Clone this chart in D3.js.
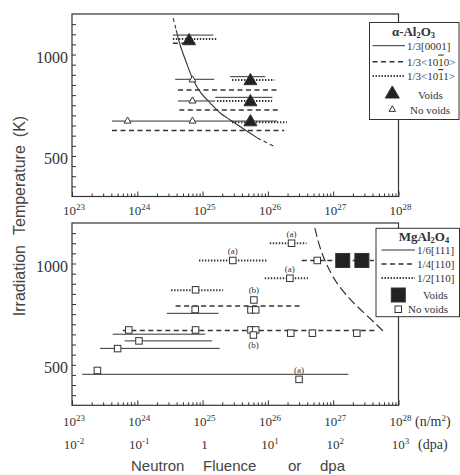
<!DOCTYPE html>
<html>
<head>
<meta charset="utf-8">
<script src="https://cdn.jsdelivr.net/npm/d3@7"></script>
<style>
html,body{margin:0;padding:0;background:#fff;}
svg{display:block;}
</style>
</head>
<body>
<svg id="chart" width="460" height="475"></svg>
<script>
// ---------------- data ----------------
const fluenceExponents = [23, 24, 25, 26, 27, 28];
const dpaTickLabels = [["10","-2"],["10","-1"],["1",""],["10","1"],["10","2"],["10","3"]];
const tempTickLabels = [500, 1000];
const tempMinorTicks = [350,400,450,500,550,600,650,700,750,800,850,900,950,1000,1050,1100,1150];

// alpha-Al2O3 : [fluence from, fluence to, temperature K]
const al2o3Solid = [
  [3.5e24, 1.46e25, 1096],
  [3.8e24, 1.51e25, 878],
  [2.65e25, 9.1e25, 891],
  [4.2e24, 1.56e25, 771],
  [1.56e25, 1.17e26, 789],
  [4.1e23, 1.38e26, 672]
];
const al2o3Dashed = [
  [3.5e24, 7.7e24, 1056],
  [4.2e24, 1.45e26, 825],
  [4.4e24, 1.5e26, 727],
  [4.1e23, 1.78e26, 626]
];
const al2o3Dotted = [
  [3.5e24, 1.66e25, 1077],
  [2.82e25, 1.26e26, 875],
  [1.66e25, 1.16e26, 771],
  [2.82e25, 1.95e26, 666]
];
const al2o3Voids = [[6.2e24,1067],[5.4e25,870],[5.4e25,766],[5.4e25,667]];
const al2o3NoVoids = [[7.0e24,875],[7.0e24,771],[7.0e24,672],[7.1e23,672]];
const al2o3Curve = [[3.54e24,1180],[3.94e24,1121],[4.53e24,1047],[5.6e24,963],[7.18e24,875],[9.5e24,810],
  [1.31e25,761],[1.86e25,712],[2.65e25,677],[4.5e25,628],[6.87e25,589],[1.3e26,544]];

// MgAl2O4 : [fluence from, fluence to, temperature K]
const spinelSolid = [
  [2.83e24, 1.75e25, 754],
  [4.2e23, 1.1e25, 651],
  [6.4e23, 1.4e25, 618],
  [2.7e23, 1.83e25, 581],
  [1.43e23, 1.7e27, 453]
];
const spinelDashed = [
  [3.86e24, 3.3e26, 790],
  [6.0e23, 4.4e27, 669],
  [3.3e26, 4.2e27, 1015]
];
const spinelDotted = [
  [8.8e24, 9.6e25, 1015],
  [1.07e26, 3.9e26, 1100],
  [8.95e25, 4.1e26, 927],
  [3.3e24, 2.06e25, 868]
];
const spinelVoids = [[1.4e27,1015],[2.75e27,1015]];
const spinelNoVoids = [
  [2.9e25,1015],[2.3e26,1100],[2.17e26,927],[5.7e26,1015],
  [7.8e24,870],[7.7e24,773],
  [6.1e25,820],[5.5e25,771],[6.5e25,771],
  [7.4e23,672],[7.8e24,672],[5.5e25,672],[6.5e25,672],[6.0e25,647],
  [2.24e26,656],[4.8e26,656],[2.3e27,656],
  [1.06e24,618],[5.0e23,580],[2.45e23,472],[3.0e26,428]
];
const spinelNotes = [
  [2.9e25,1015,"(a)","above"],[2.3e26,1100,"(a)","above"],[2.17e26,927,"(a)","above"],
  [6.1e25,820,"(b)","above"],[6.0e25,647,"(b)","below"],[3.0e26,428,"(a)","above"]
];
const spinelCurve = [[5.24e26,1175],[6.25e26,1082],[8.0e26,993],[1.14e27,904],[1.8e27,825],
  [2.86e27,761],[4.52e27,701],[5.78e27,667]];

// ---------------- drawing ----------------
const svg = d3.select("#chart");
svg.append("rect").attr("width",460).attr("height",475).attr("fill","#fff");
const INK = "#333";
const SERIF = "'Liberation Serif','Times New Roman',serif";
const SANS = "'Liberation Sans',Arial,sans-serif";
const X0 = 72, X1 = 398.5;
const x = d3.scaleLog().domain([1e23,1e28]).range([X0,X1]);
const majorX = fluenceExponents.map(e => Math.pow(10,e));
const minorX = [];
fluenceExponents.slice(0,-1).forEach(e => { for (let m=2;m<=9;m++) minorX.push(m*Math.pow(10,e)); });

const lineStyles = {
  solid:{w:1, dash:null},
  dashed:{w:1.5, dash:"5,3.5"},
  dotted:{w:2, dash:"1.4,1.6"}
};

function makePanel(top, bottom){
  const y = d3.scaleLinear().domain([300,1200]).range([bottom,top]);
  return {g: svg.append("g"), y, top, bottom};
}

function drawSegments(p, data, style){
  p.g.append("g").selectAll("line").data(data).join("line")
    .attr("x1",d=>x(d[0])).attr("x2",d=>x(d[1]))
    .attr("y1",d=>p.y(d[2])).attr("y2",d=>p.y(d[2]))
    .attr("stroke",INK).attr("stroke-width",lineStyles[style].w)
    .attr("stroke-dasharray",lineStyles[style].dash);
}

function drawCurve(p, pts, style, width){
  const ln = d3.line().x(d=>x(d[0])).y(d=>p.y(d[1])).curve(d3.curveCatmullRom);
  p.g.append("path").attr("d",ln(pts)).attr("fill","none").attr("stroke",INK)
    .attr("stroke-width",width).attr("stroke-dasharray",style);
}

function tri(side){ return d3.symbol(d3.symbolTriangle, side*side*Math.sqrt(3)/4)(); }

function drawTriangles(p, data, filled, side){
  p.g.append("g").selectAll("path").data(data).join("path")
    .attr("d",tri(side))
    .attr("transform",d=>`translate(${x(d[0])},${p.y(d[1])})`)
    .attr("fill",filled?"#222":"#fff").attr("stroke",INK).attr("stroke-width",1);
}

function drawSquares(p, data, filled, side){
  p.g.append("g").selectAll("rect").data(data).join("rect")
    .attr("x",d=>x(d[0])-side/2).attr("y",d=>p.y(d[1])-side/2)
    .attr("width",side).attr("height",side)
    .attr("fill",filled?"#222":"#fff").attr("stroke",INK).attr("stroke-width",1);
}

function pow10Label(g, px, py, base, exp, size, supSize){
  const t = g.append("text").attr("x",px).attr("y",py).attr("text-anchor","middle")
    .attr("font-family",SERIF).attr("font-size",size).attr("fill",INK);
  t.append("tspan").text(base);
  if (exp) t.append("tspan").attr("dy",-5.5).attr("font-size",supSize).text(exp);
  return t;
}

function drawAxes(p, labelRowY){
  const styleAxis = a => { a.select(".domain").remove(); a.selectAll("line").attr("stroke",INK); };
  styleAxis(p.g.append("g").attr("transform",`translate(${X0},0)`)
    .call(d3.axisLeft(p.y).tickValues(tempMinorTicks).tickSize(-4).tickSizeOuter(0).tickFormat("")));
  styleAxis(p.g.append("g").attr("transform",`translate(0,${p.bottom})`)
    .call(d3.axisBottom(x).tickValues(minorX).tickSize(-3).tickSizeOuter(0).tickFormat("")));
  styleAxis(p.g.append("g").attr("transform",`translate(0,${p.bottom})`)
    .call(d3.axisBottom(x).tickValues(majorX).tickSize(-5).tickSizeOuter(0).tickFormat("")));
  p.g.append("rect").attr("x",X0).attr("y",p.top).attr("width",X1-X0).attr("height",p.bottom-p.top)
    .attr("fill","none").attr("stroke",INK).attr("stroke-width",1.2);
  p.g.append("g").selectAll("text").data(tempTickLabels).join("text")
    .attr("x",68).attr("y",d=>p.y(d)+8).attr("text-anchor","end")
    .attr("font-family",SERIF).attr("font-size",16).attr("fill",INK).text(d=>d);
  fluenceExponents.forEach(e => pow10Label(p.g, x(Math.pow(10,e))+2, labelRowY, "10", String(e), 13, 9));
}

function legendBox(g, bx, by, bw, bh){
  g.append("rect").attr("x",bx).attr("y",by).attr("width",bw).attr("height",bh)
    .attr("fill","#fff").attr("stroke",INK).attr("stroke-width",1);
}
function legendLine(g, x1, x2, yy, style){
  g.append("line").attr("x1",x1).attr("x2",x2).attr("y1",yy).attr("y2",yy)
    .attr("stroke",INK).attr("stroke-width",lineStyles[style].w)
    .attr("stroke-dasharray",lineStyles[style].dash);
}
function legendText(g, px, py, parts, size){
  const t = g.append("text").attr("x",px).attr("y",py).attr("font-family",SERIF)
    .attr("font-size",size||11).attr("fill",INK);
  parts.forEach(pt => {
    const s = t.append("tspan").text(pt.t);
    if (pt.over) s.style("text-decoration","overline");
    if (pt.sub) s.attr("font-size",8.5).attr("dy",2.2);
    if (pt.back) s.attr("dy",-2.2);
  });
  return t;
}

// ---- top panel: alpha-Al2O3
const pTop = makePanel(14, 196.5);
drawSegments(pTop, al2o3Solid, "solid");
drawSegments(pTop, al2o3Dashed, "dashed");
drawSegments(pTop, al2o3Dotted, "dotted");
drawCurve(pTop, al2o3Curve.slice(0,2), "4,3", 1.1);
drawCurve(pTop, al2o3Curve.slice(1,11), null, 1.1);
drawCurve(pTop, al2o3Curve.slice(10), "4,3", 1.1);
drawTriangles(pTop, al2o3NoVoids, false, 7);
drawTriangles(pTop, al2o3Voids, true, 13);
drawAxes(pTop, 215);

// legend top
{
  const g = pTop.g.append("g");
  legendBox(g, 369.5, 22.5, 89.5, 97);
  legendText(g, 413.5, 35.5, [{t:"α-Al"},{t:"2",sub:true},{t:"O",back:true},{t:"3",sub:true}], 13)
    .attr("text-anchor","middle").attr("font-weight","bold");
  legendLine(g, 372.5, 405, 45.7, "solid");
  legendText(g, 407, 49.5, [{t:"1/3[0001]"}]);
  legendLine(g, 372.5, 405, 61.7, "dashed");
  legendText(g, 407, 65.5, [{t:"1/3<10"},{t:"1",over:true},{t:"0>"}]);
  legendLine(g, 372.5, 405, 76, "dotted");
  legendText(g, 407, 80, [{t:"1/3<10"},{t:"1",over:true},{t:"1>"}]);
  g.append("path").attr("d",tri(14)).attr("transform","translate(392.3,94)").attr("fill","#222").attr("stroke",INK);
  legendText(g, 418, 98.5, [{t:"Voids"}]);
  g.append("path").attr("d",tri(6.5)).attr("transform","translate(392.3,109.5)").attr("fill","#fff").attr("stroke",INK);
  legendText(g, 410, 113.5, [{t:"No voids"}]);
}

// ---- bottom panel: MgAl2O4
const pBot = makePanel(223, 405.3);
drawSegments(pBot, spinelSolid, "solid");
drawSegments(pBot, spinelDashed, "dashed");
drawSegments(pBot, spinelDotted, "dotted");
drawCurve(pBot, spinelCurve, "9,4", 1.2);
drawSquares(pBot, spinelNoVoids, false, 6.5);
drawSquares(pBot, spinelVoids, true, 14);
pBot.g.append("g").selectAll("text").data(spinelNotes).join("text")
  .attr("x",d=>x(d[0])).attr("y",d=>pBot.y(d[1]) + (d[3]==="above" ? -6.5 : 12.5))
  .attr("text-anchor","middle").attr("font-family",SERIF).attr("font-size",9).attr("fill",INK)
  .text(d=>d[2]);
drawAxes(pBot, 426);
// dpa row
dpaTickLabels.forEach((lab,i) => pow10Label(pBot.g, x(majorX[i])+2, 449, lab[0], lab[1], 13, 9));
{
  const t = pBot.g.append("text").attr("x",415).attr("y",426).attr("font-family",SERIF)
    .attr("font-size",14).attr("fill",INK);
  t.append("tspan").text("(n/m");
  t.append("tspan").attr("dy",-5.5).attr("font-size",9).text("2");
  t.append("tspan").attr("dy",5.5).text(")");
  pBot.g.append("text").attr("x",418).attr("y",449).attr("font-family",SERIF)
    .attr("font-size",14).attr("fill",INK).text("(dpa)");
}
// legend bottom
{
  const g = pBot.g.append("g");
  legendBox(g, 376, 228.3, 83.5, 88.4);
  legendText(g, 424, 240.5, [{t:"MgAl"},{t:"2",sub:true},{t:"O",back:true},{t:"4",sub:true}], 13)
    .attr("text-anchor","middle").attr("font-weight","bold");
  legendLine(g, 381.5, 415, 250, "solid");
  legendText(g, 417, 254, [{t:"1/6[111]"}]);
  legendLine(g, 381.5, 415, 264, "dashed");
  legendText(g, 417, 268, [{t:"1/4[110]"}]);
  legendLine(g, 381.5, 415, 278, "dotted");
  legendText(g, 417, 282, [{t:"1/2[110]"}]);
  g.append("rect").attr("x",391.3).attr("y",288).attr("width",14).attr("height",14).attr("fill","#222").attr("stroke",INK);
  legendText(g, 423, 299, [{t:"Voids"}]);
  g.append("rect").attr("x",395).attr("y",306).attr("width",6.5).attr("height",6.5).attr("fill","#fff").attr("stroke",INK);
  legendText(g, 408, 313, [{t:"No voids"}]);
}

// ---- axis titles
{
  const t = svg.append("text").attr("transform","translate(25,216) rotate(-90)")
    .attr("text-anchor","middle").attr("font-family",SANS).attr("font-size",16).attr("fill","#444");
  t.append("tspan").text("Irradiation");
  t.append("tspan").attr("dx",10).text("Temperature");
  t.append("tspan").attr("dx",8).text("(K)");

  const words = [["Neutron",131],["Fluence",203],["or",288],["dpa",320]];
  svg.append("g").selectAll("text").data(words).join("text")
    .attr("x",d=>d[1]).attr("y",471).attr("font-family",SANS).attr("font-size",15).attr("fill","#444")
    .text(d=>d[0]);
}
</script>
</body>
</html>
